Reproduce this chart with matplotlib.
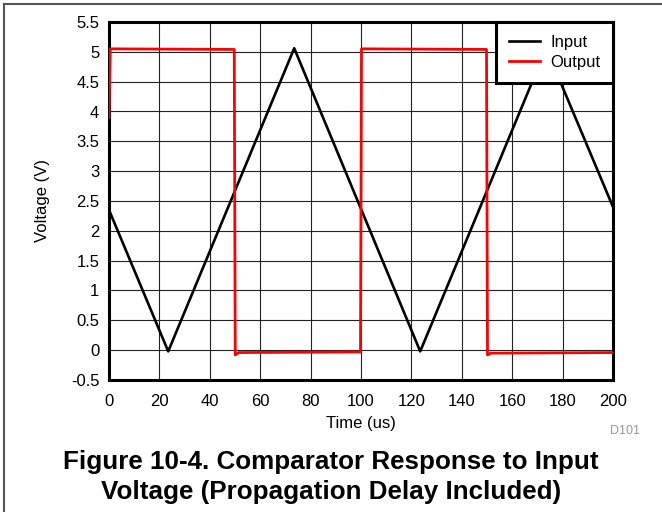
import matplotlib
matplotlib.use('Agg')
import matplotlib.pyplot as plt
from matplotlib.lines import Line2D

plt.rcParams['font.family'] = ['Liberation Sans', 'DejaVu Sans']

# input triangle wave (time in us, volts)
t_in = [0, 23.5, 73.5, 123.5, 173.5, 200]
v_in = [2.35, -0.02, 5.06, -0.02, 5.06, 2.4]

# comparator output
t_out = [0, 0.5, 49.7, 50.1, 51.5, 99.8, 100.2, 149.8, 150.2, 151.5, 200]
v_out = [3.9, 5.05, 5.04, -0.08, -0.04, -0.03, 5.05, 5.04, -0.08, -0.05, -0.04]

xticks = list(range(0, 201, 20))
yticks = [-0.5, 0, 0.5, 1, 1.5, 2, 2.5, 3, 3.5, 4, 4.5, 5, 5.5]
ylabels = ['-0.5', '0', '0.5', '1', '1.5', '2', '2.5', '3', '3.5', '4', '4.5', '5', '5.5']

fig = plt.figure(figsize=(6.62, 5.12), dpi=100)
ax = fig.add_axes([109/662, 1-380/512, 504/662, 358/512])

ax.plot(t_in, v_in, color='black', lw=1.9, label='Input', zorder=3)
ax.plot(t_out, v_out, color='#ff0000', lw=2.0, label='Output', zorder=4)

ax.set_xlim(0, 200)
ax.set_ylim(-0.5, 5.5)
ax.set_xticks(xticks)
ax.set_yticks(yticks)
ax.set_yticklabels(ylabels)
ax.tick_params(length=0, labelsize=12, colors='black')
ax.tick_params(axis='y', pad=7)
ax.tick_params(axis='x', pad=10)
ax.grid(True, color='#222222', lw=0.8)
ax.set_axisbelow(True)
for s in ax.spines.values():
    s.set_linewidth(2.2)

ax.set_xlabel('Time (us)', fontsize=12, labelpad=5)
ax.set_ylabel('Voltage (V)', fontsize=12, labelpad=15)

leg = ax.legend(loc='upper right', borderaxespad=0, fancybox=False, framealpha=1,
                fontsize=12, handlelength=1.9, handletextpad=0.6,
                labelspacing=0.35, borderpad=0.75)
leg.get_frame().set_edgecolor('black')
leg.get_frame().set_linewidth(2.2)

fig.text(640/662, 1-431/512, 'D101', color='#999999', fontsize=9, ha='right', va='center')
fig.text(0.5, 1-462/512, 'Figure 10-4. Comparator Response to Input',
         fontsize=18.7, fontweight='bold', ha='center', va='center')
fig.text(0.5, 1-492/512, 'Voltage (Propagation Delay Included)',
         fontsize=18.7, fontweight='bold', ha='center', va='center')

# page frame (left and top edges)
fig.add_artist(Line2D([3.5/662, 3.5/662], [0, 1-3.5/512], color='#555555', lw=1.5))
fig.add_artist(Line2D([3.5/662, 1], [1-3.5/512, 1-3.5/512], color='#555555', lw=1.5))

fig.savefig('out.png', dpi=100)
